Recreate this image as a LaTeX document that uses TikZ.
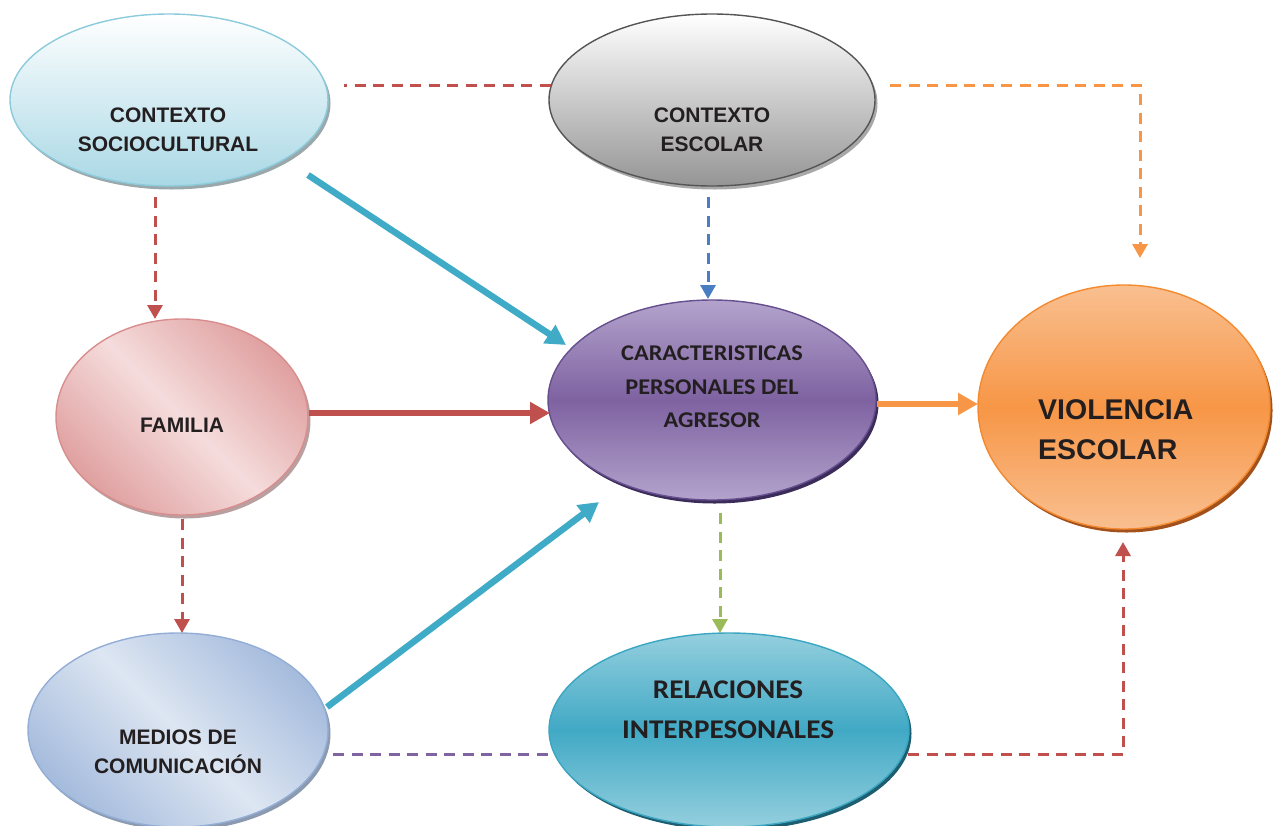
\documentclass[tikz,border=0pt]{standalone}
\usepackage{fontspec}
\setmainfont{Liberation Sans}
\newfontfamily\calib[FakeStretch=1.08]{Carlito}
\usetikzlibrary{shapes.geometric,arrows.meta,calc,shadows}

\definecolor{txtc}{HTML}{231F20}
\definecolor{redc}{HTML}{C0504D}
\definecolor{orc}{HTML}{F79646}
\definecolor{cyc}{HTML}{3FABC7}
\definecolor{bluc}{HTML}{4A7EC2}
\definecolor{grnc}{HTML}{9BBB59}
\definecolor{purc}{HTML}{8064A2}

\definecolor{scBot}{HTML}{A9D8E5}
\definecolor{scBorder}{HTML}{8BCBDC}
\definecolor{scRim}{HTML}{9AA8AC}
\definecolor{ceBot}{HTML}{959595}
\definecolor{ceBorder}{HTML}{555555}
\definecolor{ceRim}{HTML}{A8A8A8}
\definecolor{faDark}{HTML}{E0A0A0}
\definecolor{faLight}{HTML}{F5DCDC}
\definecolor{faBorder}{HTML}{D88E8E}
\definecolor{faRim}{HTML}{B8A0A0}
\definecolor{caEdge}{HTML}{B3A3CC}
\definecolor{caMid}{HTML}{7E62A1}
\definecolor{caBorder}{HTML}{664F8E}
\definecolor{caRim}{HTML}{3B2C5A}
\definecolor{viEdge}{HTML}{F9BF90}
\definecolor{viMid}{HTML}{F79646}
\definecolor{viBorder}{HTML}{F38A30}
\definecolor{viRim}{HTML}{A2501C}
\definecolor{meDark}{HTML}{A6BCDD}
\definecolor{meLight}{HTML}{DDE6F2}
\definecolor{meBorder}{HTML}{93AED6}
\definecolor{meRim}{HTML}{8C9AB0}
\definecolor{reEdge}{HTML}{94CFDE}
\definecolor{reMid}{HTML}{41A9C5}
\definecolor{reBorder}{HTML}{3AA6C2}
\definecolor{reRim}{HTML}{1D5F70}

\begin{document}
\begin{tikzpicture}[x=1pt,y=-1pt,
  ell/.style={ellipse, inner sep=0pt, outer sep=0pt, line width=1.4pt},
  rim/.style={general shadow={fill=#1, shadow xshift=2.5pt, shadow yshift=-3.5pt}},
  lbl/.style={text=txtc, font=\bfseries\fontsize{21}{28.5}\selectfont, align=center, inner sep=0pt},
  lblc/.style={text=txtc, font=\calib\bfseries\fontsize{22.5}{33.5}\selectfont, align=center, inner sep=0pt},
  lblr/.style={text=txtc, font=\calib\bfseries\fontsize{27}{40}\selectfont, align=center, inner sep=0pt},
  lblv/.style={text=txtc, font=\bfseries\fontsize{28.5}{40}\selectfont, align=left, inner sep=0pt},
  dl/.style={line width=3pt, dash pattern=on 11pt off 7.5pt},
  dtip/.style={-{Triangle[length=14pt,width=15pt]}},
  ttip/.style={-{Triangle[length=20pt,width=21pt]}},
  thick6/.style={line width=6.5pt},
]
\useasboundingbox (0,0) rectangle (1273,825);

% ellipses
\node[ell, rim=scRim, draw=scBorder, top color=white, bottom color=scBot,
      minimum width=318pt, minimum height=172pt] (sc) at (169,100) {};
\node[ell, rim=ceRim, draw=ceBorder, top color=white, bottom color=ceBot,
      minimum width=326pt, minimum height=172pt] (ce) at (712,100) {};
\node[ell, rim=faRim, draw=faBorder, left color=faDark, right color=faDark, middle color=faLight,
      shading angle=-45, minimum width=252pt, minimum height=196pt] (fa) at (182,417) {};
\node[ell, rim=caRim, draw=caBorder, top color=caEdge, bottom color=caEdge, middle color=caMid,
      minimum width=328pt, minimum height=200pt] (ca) at (712,400) {};
\node[ell, rim=viRim, draw=viBorder, top color=viEdge, bottom color=viEdge, middle color=viMid,
      minimum width=292pt, minimum height=244pt] (vi) at (1124,407) {};
\node[ell, rim=meRim, draw=meBorder, left color=meDark, right color=meDark, middle color=meLight,
      shading angle=-45, minimum width=300pt, minimum height=194pt] (me) at (178,730) {};
\node[ell, rim=reRim, draw=reBorder, top color=reEdge, bottom color=reEdge, middle color=reMid,
      minimum width=360pt, minimum height=194pt] (re) at (729,730) {};

% labels
\node[lbl] (tsc) at (168,130) {CONTEXTO\\SOCIOCULTURAL};
\node[lbl] (tce) at (712,130) {CONTEXTO\\ESCOLAR};
\node[lbl] (tfa) at (182,425) {FAMILIA};
\node[lblc] (tca) at (712,387) {CARACTERISTICAS\\PERSONALES DEL\\AGRESOR};
\node[lblv, anchor=west] (tvi) at (1038,430) {VIOLENCIA\\ESCOLAR};
\node[lbl] (tme) at (178,752) {MEDIOS DE\\COMUNICACIÓN};
\node[lblr] (tre) at (728,710) {RELACIONES\\INTERPESONALES};

% connectors
\draw[dl, redc, dash phase=8pt] ($(sc.east)+(16,-15)$) -- ($(ce.west)+(3,-15)$);
\draw[dl, orc, dtip] ($(ce.east)+(15,-15)$) -| ($(vi.north)+(16,-27)$);
\draw[dl, redc, dtip] ($(sc.south)+(-14,11)$) -- ($(fa.north)+(-27,0)$);
\draw[thick6, cyc, ttip] ($(sc.center)+(139,75)$) -- ($(ca.center)+(-146,-55)$);
\draw[dl, bluc, dtip] ($(ce.south)+(-4,11)$) -- ($(ca.north)+(-4,-1)$);
\draw[thick6, redc, ttip] ($(fa.east)+(1,-4)$) -- ($(ca.west)+(2,13)$);
\draw[thick6, orc, ttip] ($(ca.east)+(1,4)$) -- ($(vi.west)+(0,-3)$);
\draw[dl, redc, dtip] ($(fa.south)+(0,4)$) -- (fa.south |- me.north);
\draw[thick6, cyc, ttip] ($(me.center)+(149,-23)$) -- ($(ca.center)+(-113,102)$);
\coordinate (gstart) at ($(ca.south)+(8,13)$);
\draw[dl, grnc, dtip] (gstart) -- (gstart |- re.north);
\draw[dl, purc] ($(me.east)+(5,24)$) -- ($(re.west)+(1,24)$);
\draw[dl, redc, dtip] ($(re.east)+(-1,24)$) -| ($(vi.south)+(-1,13)$);
\end{tikzpicture}
\end{document}
